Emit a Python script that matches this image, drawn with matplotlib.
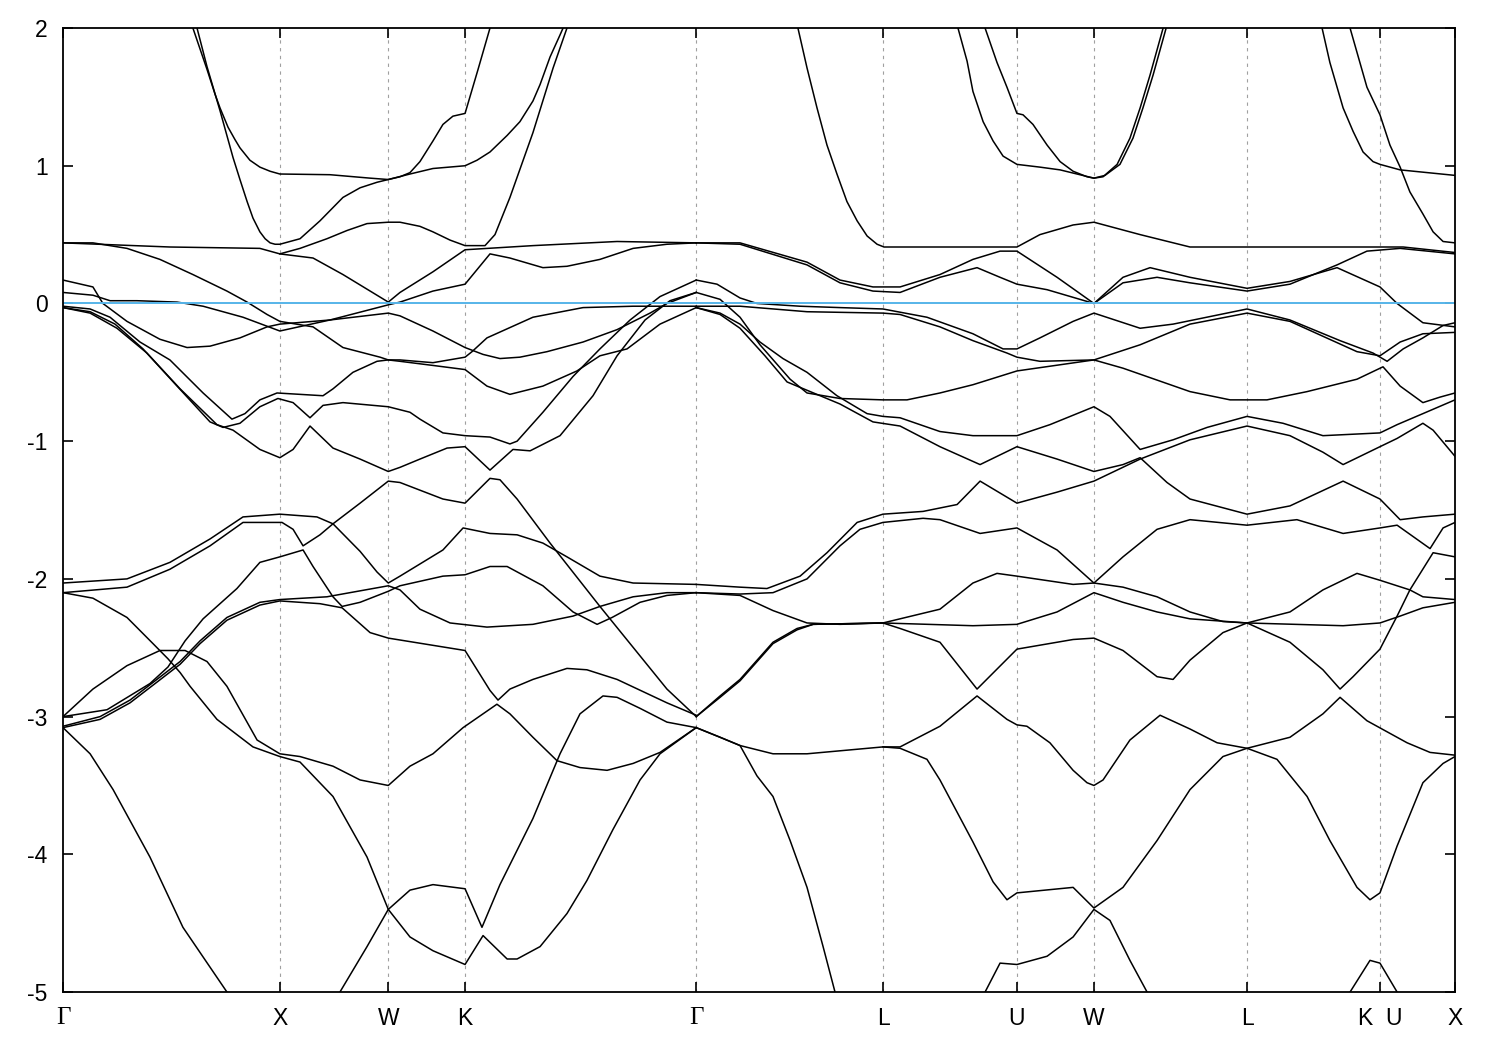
import matplotlib
matplotlib.use("Agg")
import matplotlib.pyplot as plt

plt.rcParams["font.family"] = ["Liberation Sans", "DejaVu Sans"]
plt.rcParams["axes.unicode_minus"] = False

# high-symmetry points along the path (k in 2pi/a path length)
TICK_K = [0.0, 1.0, 1.5, 1.854, 2.92, 3.783, 4.399, 4.754, 5.460, 6.073, 6.419]
TICK_LABELS = ["\u0393", "X", "W", "K", "\u0393", "L", "U", "W", "L", "K  U", "X"]
E_TICKS = [-5, -4, -3, -2, -1, 0, 1, 2]

# bands above the Fermi level (Gamma-X-W-K-Gamma)
upper_left = [
    ([0.599, 0.664, 0.701, 0.724, 0.761, 0.793, 0.816, 0.862, 0.908, 0.955, 1.000, 1.231, 1.416, 1.500, 1.554, 1.600, 1.646, 1.706, 1.752, 1.798, 1.854, 1.914, 1.969],
     [2.0, 1.70, 1.52, 1.42, 1.28, 1.19, 1.13, 1.04, 0.99, 0.96, 0.94, 0.935, 0.91, 0.90, 0.92, 0.95, 1.03, 1.18, 1.30, 1.36, 1.38, 1.70, 2.0]),
    ([0.618, 0.664, 0.724, 0.784, 0.816, 0.849, 0.876, 0.908, 0.932, 0.955, 0.978, 1.000, 1.093, 1.185, 1.291, 1.370, 1.448, 1.500, 1.600, 1.706, 1.854, 1.909, 1.969, 2.048, 2.107, 2.167, 2.200, 2.246, 2.292, 2.306],
     [2.0, 1.72, 1.40, 1.06, 0.90, 0.74, 0.62, 0.52, 0.47, 0.44, 0.43, 0.43, 0.47, 0.60, 0.77, 0.84, 0.88, 0.90, 0.94, 0.98, 1.0, 1.04, 1.10, 1.22, 1.32, 1.47, 1.59, 1.79, 1.95, 2.0]),
    ([1.000, 1.093, 1.217, 1.310, 1.402, 1.500, 1.554, 1.646, 1.706, 1.785, 1.854, 1.946, 1.992, 2.061, 2.167, 2.260, 2.324],
     [0.36, 0.40, 0.47, 0.53, 0.58, 0.59, 0.59, 0.56, 0.52, 0.46, 0.42, 0.42, 0.50, 0.77, 1.24, 1.71, 2.0]),
    ([0, 0.493, 0.908, 1.000, 1.153, 1.291, 1.500, 1.554, 1.706, 1.854, 2.167, 2.555, 2.92],
     [0.44, 0.41, 0.40, 0.36, 0.33, 0.21, 0.01, 0.08, 0.23, 0.39, 0.42, 0.45, 0.44]),
]

# bands near the Fermi level (Gamma-X-W-K-Gamma)
fermi_left = [
    ([0, 0.138, 0.295, 0.447, 0.599, 0.756, 0.849, 0.941, 1.000, 1.153, 1.291, 1.462, 1.500, 1.554, 1.706, 1.854, 1.886, 1.955, 2.167, 2.398, 2.629, 2.92],
     [0.44, 0.44, 0.40, 0.32, 0.21, 0.09, 0.01, -0.08, -0.13, -0.17, -0.32, -0.39, -0.41, -0.41, -0.43, -0.39, -0.35, -0.25, -0.10, -0.03, -0.02, -0.02]),
    ([0, 0.138, 0.184, 0.295, 0.447, 0.572, 0.678, 0.816, 0.941, 1.000, 1.231, 1.500, 1.554, 1.706, 1.854, 1.937, 2.015, 2.107, 2.232, 2.398, 2.555, 2.707, 2.785, 2.92],
     [0.17, 0.12, 0.0, -0.13, -0.26, -0.32, -0.31, -0.25, -0.17, -0.15, -0.12, -0.07, -0.09, -0.20, -0.32, -0.37, -0.40, -0.39, -0.35, -0.28, -0.19, -0.07, 0.0, 0.08]),
    ([0, 0.138, 0.217, 0.341, 0.526, 0.646, 0.830, 1.000, 1.231, 1.500, 1.554, 1.706, 1.854, 1.969, 2.061, 2.213, 2.324, 2.476, 2.629, 2.785, 2.92],
     [0.08, 0.06, 0.02, 0.02, 0.01, -0.02, -0.10, -0.20, -0.12, -0.01, 0.01, 0.09, 0.14, 0.36, 0.33, 0.26, 0.27, 0.32, 0.40, 0.43, 0.44]),
    ([0, 0.125, 0.217, 0.355, 0.493, 0.646, 0.779, 0.839, 0.908, 0.987, 1.093, 1.199, 1.245, 1.337, 1.448, 1.500, 1.554, 1.706, 1.854, 1.955, 2.061, 2.213, 2.370, 2.476, 2.601, 2.753, 2.92],
     [-0.02, -0.04, -0.10, -0.28, -0.41, -0.65, -0.84, -0.80, -0.70, -0.65, -0.66, -0.67, -0.62, -0.50, -0.42, -0.41, -0.42, -0.45, -0.48, -0.60, -0.66, -0.60, -0.49, -0.38, -0.33, -0.15, -0.03]),
    ([0, 0.125, 0.240, 0.369, 0.526, 0.678, 0.738, 0.816, 0.908, 0.991, 1.061, 1.139, 1.199, 1.291, 1.500, 1.600, 1.646, 1.752, 1.854, 1.969, 2.061, 2.094, 2.213, 2.352, 2.476, 2.615, 2.753, 2.92],
     [-0.03, -0.06, -0.15, -0.33, -0.60, -0.86, -0.90, -0.87, -0.75, -0.69, -0.72, -0.83, -0.74, -0.72, -0.75, -0.79, -0.84, -0.94, -0.96, -0.97, -1.02, -1.00, -0.79, -0.53, -0.33, -0.12, 0.05, 0.17]),
    ([0, 0.125, 0.249, 0.387, 0.540, 0.710, 0.784, 0.908, 1.000, 1.061, 1.139, 1.245, 1.370, 1.500, 1.554, 1.646, 1.771, 1.854, 1.969, 2.075, 2.154, 2.292, 2.444, 2.555, 2.684, 2.799, 2.92],
     [-0.03, -0.07, -0.18, -0.36, -0.62, -0.88, -0.92, -1.06, -1.12, -1.06, -0.89, -1.05, -1.13, -1.22, -1.19, -1.13, -1.05, -1.04, -1.21, -1.06, -1.07, -0.96, -0.67, -0.38, -0.12, 0.02, 0.08]),
]

# deeper bands (Gamma-X-W-K-Gamma)
lower_left = [
    ([0, 0.295, 0.493, 0.678, 0.830, 1.000, 1.171, 1.245, 1.370, 1.448, 1.500, 1.554, 1.752, 1.845, 1.969, 2.094, 2.213, 2.324, 2.476, 2.629, 2.92],
     [-2.03, -2.00, -1.88, -1.71, -1.55, -1.53, -1.55, -1.60, -1.80, -1.95, -2.03, -1.98, -1.79, -1.63, -1.67, -1.68, -1.74, -1.84, -1.98, -2.03, -2.04]),
    ([0, 0.295, 0.493, 0.678, 0.830, 1.010, 1.061, 1.107, 1.185, 1.245, 1.370, 1.500, 1.554, 1.752, 1.854, 1.969, 2.015, 2.094, 2.246, 2.476, 2.785, 2.92],
     [-2.10, -2.06, -1.93, -1.76, -1.59, -1.59, -1.64, -1.76, -1.68, -1.60, -1.45, -1.29, -1.30, -1.42, -1.45, -1.27, -1.28, -1.42, -1.74, -2.20, -2.80, -3.0]),
    ([0, 0.138, 0.295, 0.415, 0.484, 0.540, 0.586, 0.710, 0.876, 1.000, 1.093, 1.245, 1.402, 1.500, 1.600, 1.706, 1.854, 1.937, 2.048, 2.094, 2.200, 2.324, 2.416, 2.536, 2.661, 2.753, 2.92],
     [-2.10, -2.14, -2.28, -2.47, -2.58, -2.68, -2.78, -3.02, -3.22, -3.29, -3.33, -3.58, -4.02, -4.40, -4.60, -4.70, -4.80, -4.59, -4.76, -4.76, -4.67, -4.43, -4.19, -3.82, -3.46, -3.27, -3.08]),
    ([0, 0.203, 0.401, 0.484, 0.563, 0.646, 0.802, 0.908, 1.000, 1.107, 1.153, 1.245, 1.287, 1.370, 1.500, 1.554, 1.752, 1.854, 1.969, 2.048, 2.213, 2.352, 2.463, 2.532, 2.661, 2.785, 2.92],
     [-3.0, -2.95, -2.76, -2.64, -2.45, -2.29, -2.07, -1.88, -1.84, -1.79, -1.91, -2.13, -2.20, -2.17, -2.09, -2.05, -1.98, -1.97, -1.91, -1.91, -2.05, -2.24, -2.33, -2.28, -2.17, -2.12, -2.10]),
    ([0, 0.138, 0.295, 0.447, 0.563, 0.664, 0.756, 0.895, 1.000, 1.093, 1.245, 1.370, 1.500, 1.600, 1.706, 1.845, 2.001, 2.061, 2.167, 2.278, 2.384, 2.509, 2.629, 2.753, 2.92],
     [-3.0, -2.80, -2.63, -2.52, -2.52, -2.60, -2.78, -3.17, -3.27, -3.29, -3.36, -3.46, -3.50, -3.36, -3.27, -3.08, -2.91, -2.98, -3.15, -3.32, -3.37, -3.39, -3.34, -3.26, -3.08]),
    ([0, 0.171, 0.309, 0.433, 0.540, 0.632, 0.756, 0.908, 1.000, 1.217, 1.500, 1.554, 1.646, 1.785, 1.955, 2.167, 2.352, 2.476, 2.629, 2.785, 2.92],
     [-3.07, -3.00, -2.88, -2.73, -2.60, -2.45, -2.28, -2.17, -2.15, -2.13, -2.05, -2.08, -2.22, -2.32, -2.35, -2.33, -2.27, -2.20, -2.13, -2.10, -2.10]),
    ([0, 0.171, 0.309, 0.433, 0.540, 0.632, 0.756, 0.908, 1.000, 1.185, 1.287, 1.416, 1.500, 1.854, 1.969, 2.006, 2.061, 2.167, 2.324, 2.416, 2.555, 2.785, 2.92],
     [-3.08, -3.02, -2.90, -2.75, -2.62, -2.47, -2.30, -2.19, -2.16, -2.18, -2.21, -2.39, -2.43, -2.52, -2.81, -2.88, -2.80, -2.73, -2.65, -2.66, -2.73, -2.90, -2.99]),
    ([0, 0.125, 0.231, 0.401, 0.553, 0.756],
     [-3.08, -3.27, -3.53, -4.02, -4.53, -5.0]),
    ([1.277, 1.402, 1.500, 1.600, 1.706, 1.854, 1.932, 2.015, 2.167, 2.292, 2.384, 2.490, 2.555, 2.661, 2.785, 2.92],
     [-5.0, -4.67, -4.40, -4.26, -4.22, -4.25, -4.53, -4.22, -3.74, -3.27, -2.98, -2.85, -2.86, -2.94, -3.04, -3.08]),
]

# bands above the Fermi level (Gamma-L-U-W-L-K|U-X)
upper_right = [
    ([3.389, 3.431, 3.477, 3.523, 3.569, 3.615, 3.662, 3.708, 3.754, 3.786, 4.399, 4.505, 4.658, 4.754, 4.967, 5.197, 5.460, 6.073, 6.180, 6.419],
     [2.0, 1.71, 1.42, 1.15, 0.94, 0.74, 0.60, 0.49, 0.43, 0.41, 0.41, 0.50, 0.57, 0.59, 0.50, 0.41, 0.41, 0.41, 0.41, 0.37]),
    ([2.92, 3.122, 3.431, 3.583, 3.735, 3.860, 4.044, 4.196, 4.321, 4.399, 4.584, 4.754, 4.888, 5.013, 5.197, 5.460, 5.658, 5.875, 6.073, 6.152, 6.271, 6.419],
     [0.44, 0.44, 0.30, 0.17, 0.12, 0.12, 0.21, 0.32, 0.38, 0.38, 0.19, 0.0, 0.19, 0.26, 0.19, 0.11, 0.16, 0.26, 0.12, 0.0, -0.14, -0.17]),
    ([2.92, 3.122, 3.431, 3.583, 3.735, 3.860, 4.044, 4.215, 4.321, 4.399, 4.538, 4.754, 4.888, 5.045, 5.197, 5.460, 5.658, 5.875, 6.013, 6.166, 6.419],
     [0.44, 0.43, 0.28, 0.15, 0.09, 0.08, 0.19, 0.26, 0.19, 0.14, 0.10, 0.0, 0.15, 0.19, 0.15, 0.09, 0.14, 0.28, 0.38, 0.40, 0.36]),
    ([4.252, 4.307, 4.353, 4.399, 4.427, 4.473, 4.538, 4.598, 4.658, 4.722, 4.754, 4.796, 4.861, 4.920, 4.967, 5.013, 5.073],
     [2.0, 1.75, 1.57, 1.38, 1.37, 1.30, 1.15, 1.03, 0.96, 0.92, 0.91, 0.92, 1.01, 1.20, 1.42, 1.66, 2.0]),
    ([4.127, 4.169, 4.196, 4.243, 4.289, 4.335, 4.399, 4.505, 4.598, 4.754, 4.805, 4.874, 4.934, 4.980, 5.027, 5.087],
     [2.0, 1.76, 1.54, 1.32, 1.18, 1.07, 1.01, 0.99, 0.97, 0.91, 0.93, 1.01, 1.20, 1.42, 1.66, 2.0]),
    ([5.806, 5.842, 5.903, 5.949, 5.995, 6.041, 6.073, 6.166, 6.419],
     [2.0, 1.75, 1.42, 1.25, 1.10, 1.03, 1.01, 0.97, 0.93]),
    ([5.935, 6.013, 6.073, 6.119, 6.166, 6.211, 6.271, 6.318, 6.364, 6.419],
     [2.0, 1.57, 1.37, 1.15, 0.99, 0.81, 0.65, 0.52, 0.45, 0.44]),
]

# bands near the Fermi level (Gamma-L-U-W-L-K|U-X)
fermi_right = [
    ([2.92, 3.016, 3.122, 3.200, 3.399, 3.583, 3.781, 3.984, 4.196, 4.335, 4.399, 4.505, 4.658, 4.754, 4.967, 5.119, 5.460, 5.658, 5.889, 6.041, 6.106, 6.180, 6.271, 6.364, 6.419],
     [0.17, 0.14, 0.04, 0.0, -0.02, -0.03, -0.04, -0.10, -0.22, -0.33, -0.33, -0.25, -0.13, -0.07, -0.18, -0.15, -0.04, -0.12, -0.27, -0.36, -0.42, -0.33, -0.25, -0.16, -0.14]),
    ([2.92, 3.122, 3.431, 3.781, 3.860, 4.044, 4.196, 4.353, 4.399, 4.505, 4.754, 4.967, 5.197, 5.460, 5.658, 5.967, 6.073, 6.166, 6.271, 6.419],
     [-0.02, -0.02, -0.06, -0.07, -0.08, -0.17, -0.27, -0.36, -0.39, -0.42, -0.41, -0.30, -0.15, -0.07, -0.13, -0.35, -0.38, -0.28, -0.22, -0.21]),
    ([2.92, 3.030, 3.122, 3.214, 3.353, 3.431, 3.583, 3.781, 3.892, 4.044, 4.196, 4.399, 4.754, 4.888, 5.197, 5.382, 5.552, 5.737, 5.967, 6.087, 6.166, 6.271, 6.350, 6.419],
     [0.08, 0.03, -0.10, -0.30, -0.55, -0.65, -0.69, -0.70, -0.70, -0.65, -0.59, -0.49, -0.41, -0.47, -0.64, -0.70, -0.70, -0.64, -0.55, -0.46, -0.60, -0.72, -0.68, -0.65]),
    ([2.92, 3.030, 3.122, 3.214, 3.320, 3.431, 3.569, 3.708, 3.781, 3.860, 4.044, 4.196, 4.399, 4.551, 4.754, 4.828, 4.967, 5.119, 5.276, 5.460, 5.626, 5.810, 6.073, 6.152, 6.271, 6.419],
     [-0.03, -0.07, -0.15, -0.28, -0.40, -0.50, -0.67, -0.80, -0.82, -0.83, -0.93, -0.96, -0.96, -0.88, -0.75, -0.82, -1.06, -0.99, -0.90, -0.82, -0.87, -0.96, -0.94, -0.88, -0.80, -0.70]),
    ([2.92, 3.030, 3.122, 3.237, 3.339, 3.583, 3.735, 3.860, 4.044, 4.229, 4.399, 4.584, 4.754, 4.888, 4.967, 5.091, 5.197, 5.460, 5.658, 5.903, 6.073, 6.166, 6.271, 6.419],
     [-0.03, -0.08, -0.18, -0.38, -0.57, -0.73, -0.86, -0.89, -1.04, -1.17, -1.04, -1.13, -1.22, -1.17, -1.12, -1.30, -1.42, -1.53, -1.47, -1.29, -1.42, -1.57, -1.55, -1.53]),
]

# deeper bands (Gamma-L-U-W-L-K|U-X)
lower_right = [
    ([2.92, 3.122, 3.246, 3.399, 3.523, 3.662, 3.781, 3.966, 4.123, 4.229, 4.399, 4.584, 4.754, 4.967, 5.197, 5.460, 5.658, 5.810, 5.903, 6.073, 6.152, 6.271, 6.318, 6.419],
     [-2.04, -2.06, -2.07, -1.98, -1.81, -1.59, -1.53, -1.51, -1.46, -1.29, -1.45, -1.37, -1.29, -1.13, -0.99, -0.89, -0.96, -1.08, -1.17, -1.04, -0.98, -0.87, -0.92, -1.11]),
    ([2.92, 3.122, 3.274, 3.431, 3.583, 3.675, 3.781, 3.966, 4.044, 4.229, 4.399, 4.584, 4.754, 4.888, 5.045, 5.197, 5.460, 5.690, 5.903, 6.073, 6.152, 6.304, 6.364, 6.419],
     [-2.10, -2.11, -2.10, -2.00, -1.76, -1.64, -1.59, -1.56, -1.57, -1.67, -1.63, -1.79, -2.03, -1.84, -1.64, -1.57, -1.61, -1.57, -1.67, -1.63, -1.61, -1.78, -1.63, -1.59]),
    ([2.92, 3.122, 3.274, 3.431, 3.583, 3.781, 4.044, 4.196, 4.307, 4.399, 4.658, 4.754, 4.888, 5.045, 5.197, 5.349, 5.460, 5.903, 6.073, 6.166, 6.271, 6.419],
     [-2.10, -2.12, -2.23, -2.32, -2.33, -2.32, -2.22, -2.03, -1.96, -1.98, -2.04, -2.03, -2.06, -2.13, -2.24, -2.31, -2.32, -2.34, -2.32, -2.27, -2.21, -2.17]),
    ([2.92, 3.030, 3.122, 3.274, 3.385, 3.459, 3.781, 4.196, 4.399, 4.584, 4.754, 4.888, 5.045, 5.197, 5.460, 5.658, 5.810, 5.967, 6.073, 6.211, 6.271, 6.419],
     [-3.0, -2.85, -2.73, -2.46, -2.36, -2.33, -2.32, -2.34, -2.33, -2.24, -2.10, -2.17, -2.24, -2.29, -2.32, -2.24, -2.08, -1.96, -2.01, -2.08, -2.13, -2.15]),
    ([2.92, 3.030, 3.122, 3.274, 3.385, 3.459, 3.781, 3.860, 4.044, 4.215, 4.399, 4.658, 4.754, 4.888, 5.045, 5.119, 5.197, 5.349, 5.460, 5.658, 5.810, 5.889, 5.949, 6.073, 6.152, 6.211, 6.318, 6.419],
     [-3.0, -2.86, -2.74, -2.47, -2.37, -2.33, -2.32, -2.36, -2.46, -2.80, -2.51, -2.44, -2.43, -2.52, -2.71, -2.73, -2.59, -2.39, -2.32, -2.46, -2.66, -2.80, -2.71, -2.51, -2.27, -2.08, -1.81, -1.84]),
    ([2.92, 3.030, 3.122, 3.274, 3.431, 3.781, 3.860, 4.044, 4.215, 4.353, 4.399, 4.445, 4.551, 4.658, 4.722, 4.754, 4.796, 4.920, 5.059, 5.197, 5.322, 5.460, 5.658, 5.810, 5.889, 6.013, 6.198, 6.304, 6.419],
     [-3.08, -3.15, -3.21, -3.27, -3.27, -3.22, -3.22, -3.07, -2.85, -3.02, -3.06, -3.07, -3.19, -3.39, -3.48, -3.50, -3.46, -3.17, -2.99, -3.09, -3.19, -3.23, -3.15, -2.98, -2.86, -3.03, -3.19, -3.26, -3.28]),
    ([3.781, 3.860, 3.984, 4.044, 4.196, 4.289, 4.353, 4.399, 4.658, 4.754, 4.888, 5.045, 5.197, 5.349, 5.460, 5.598, 5.737, 5.842, 5.967, 6.027, 6.073, 6.152, 6.271, 6.364, 6.419],
     [-3.22, -3.23, -3.31, -3.46, -3.91, -4.20, -4.33, -4.28, -4.24, -4.39, -4.24, -3.90, -3.53, -3.29, -3.23, -3.31, -3.58, -3.90, -4.24, -4.33, -4.28, -3.94, -3.48, -3.34, -3.29]),
    ([2.92, 3.030, 3.122, 3.200, 3.274, 3.353, 3.431, 3.505, 3.560],
     [-3.08, -3.15, -3.21, -3.43, -3.58, -3.90, -4.24, -4.67, -5.0]),
    ([4.252, 4.321, 4.399, 4.538, 4.658, 4.754, 4.828, 4.920, 4.999],
     [-5.0, -4.79, -4.80, -4.74, -4.60, -4.40, -4.48, -4.77, -5.0]),
    ([5.935, 6.027, 6.073, 6.152],
     [-5.0, -4.77, -4.79, -5.0]),
]


def main():
    fig = plt.figure(figsize=(15, 10.5), dpi=100)
    ax = fig.add_axes([0.042, 0.0552, 0.928, 0.9181])

    for k in TICK_K[1:-1]:
        ax.axvline(k, color="#a0a0a0", lw=0.8, ls=(0, (3, 4)), zorder=1)

    for group in (upper_left, fermi_left, lower_left, upper_right, fermi_right, lower_right):
        for k, e in group:
            ax.plot(k, e, color="black", lw=1.1, zorder=3)

    # Fermi level drawn last, over the bands
    ax.axhline(0.0, color="#56b4e9", lw=1.4, zorder=4)

    ax.set_xlim(TICK_K[0], TICK_K[-1])
    ax.set_ylim(-5, 2)
    ax.set_xticks(TICK_K)
    ax.set_xticklabels(TICK_LABELS)
    ax.set_yticks(E_TICKS)
    ax.set_yticklabels([str(v) for v in E_TICKS])
    ax.tick_params(direction="in", length=7.5, width=1.2, top=True, right=True,
                   labelsize=16.5, pad=11)
    for lab in ax.get_xticklabels():
        if lab.get_text() == "\u0393":
            lab.set_fontfamily(["Liberation Serif", "DejaVu Serif"])
            lab.set_fontsize(18)
    for sp in ax.spines.values():
        sp.set_linewidth(1.3)
        sp.set_zorder(5)

    fig.savefig("out.png", dpi=100)


if __name__ == "__main__":
    main()
